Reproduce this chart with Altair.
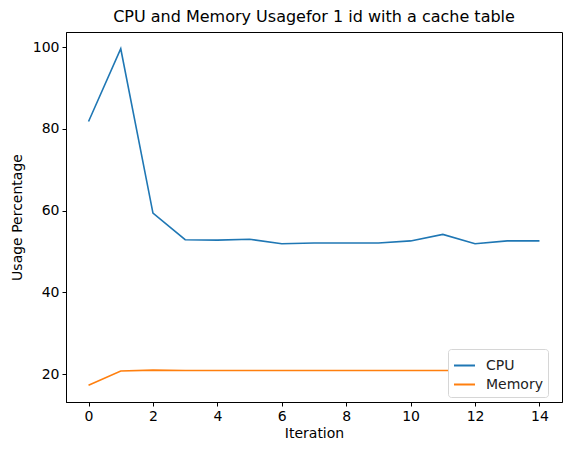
import altair as alt
import pandas as pd

iterations = list(range(15))
cpu = [81.8, 99.6, 59.4, 52.9, 52.8, 53.0, 51.9, 52.1, 52.1, 52.1, 52.6, 54.2, 51.9, 52.6, 52.6]
memory = [17.3, 20.8, 21.0, 20.9, 20.9, 20.9, 20.9, 20.9, 20.9, 20.9, 20.9, 20.9, 20.9, 20.9, 20.9]
series_names = ["CPU", "Memory"]
colors = ["#1f77b4", "#ff7f0e"]

df = pd.DataFrame({
    "Iteration": iterations * 2,
    "Usage": cpu + memory,
    "Series": [series_names[0]] * len(cpu) + [series_names[1]] * len(memory),
})

font = "DejaVu Sans"

chart = alt.Chart(df).mark_line(strokeWidth=1.6, clip=True).encode(
    x=alt.X("Iteration:Q", title="Iteration",
            scale=alt.Scale(domain=[-0.7, 14.7], nice=False, zero=False),
            axis=alt.Axis(values=[0, 2, 4, 6, 8, 10, 12, 14], grid=False, tickSize=4,
                          labelFontSize=14, titleFontSize=14, labelFont=font, titleFont=font,
                          titleFontWeight="normal", labelColor="black", titleColor="black",
                          domainColor="black", tickColor="black", titlePadding=3, labelPadding=3)),
    y=alt.Y("Usage:Q", title="Usage Percentage",
            scale=alt.Scale(domain=[13.2, 103.7], nice=False, zero=False),
            axis=alt.Axis(values=[20, 40, 60, 80, 100], grid=False, tickSize=4,
                          labelFontSize=14, titleFontSize=14, labelFont=font, titleFont=font,
                          titleFontWeight="normal", labelColor="black", titleColor="black",
                          domainColor="black", tickColor="black", titlePadding=8, labelPadding=3)),
    color=alt.Color("Series:N", title=None,
                    scale=alt.Scale(domain=series_names, range=colors),
                    legend=alt.Legend(orient="none", legendX=382, legendY=317,
                                      symbolType="stroke", symbolStrokeWidth=2, symbolSize=441,
                                      labelFontSize=14, labelFont=font, labelColor="#222222",
                                      labelOffset=10,
                                      strokeColor="#d6d6d6", fillColor="white", padding=5,
                                      cornerRadius=3, rowPadding=0)),
).properties(
    width=496,
    height=370,
    title=alt.TitleParams("CPU and Memory Usagefor 1 id with a cache table",
                          fontSize=16, font=font, fontWeight="normal", color="black",
                          anchor="middle", offset=7),
    autosize=alt.AutoSizeParams(type="none"),
    padding={"left": 58, "top": 24, "right": 1, "bottom": 45},
).configure_view(stroke="black", strokeWidth=1)

chart.save("out.html", embed_options={"renderer": "svg", "actions": False})
